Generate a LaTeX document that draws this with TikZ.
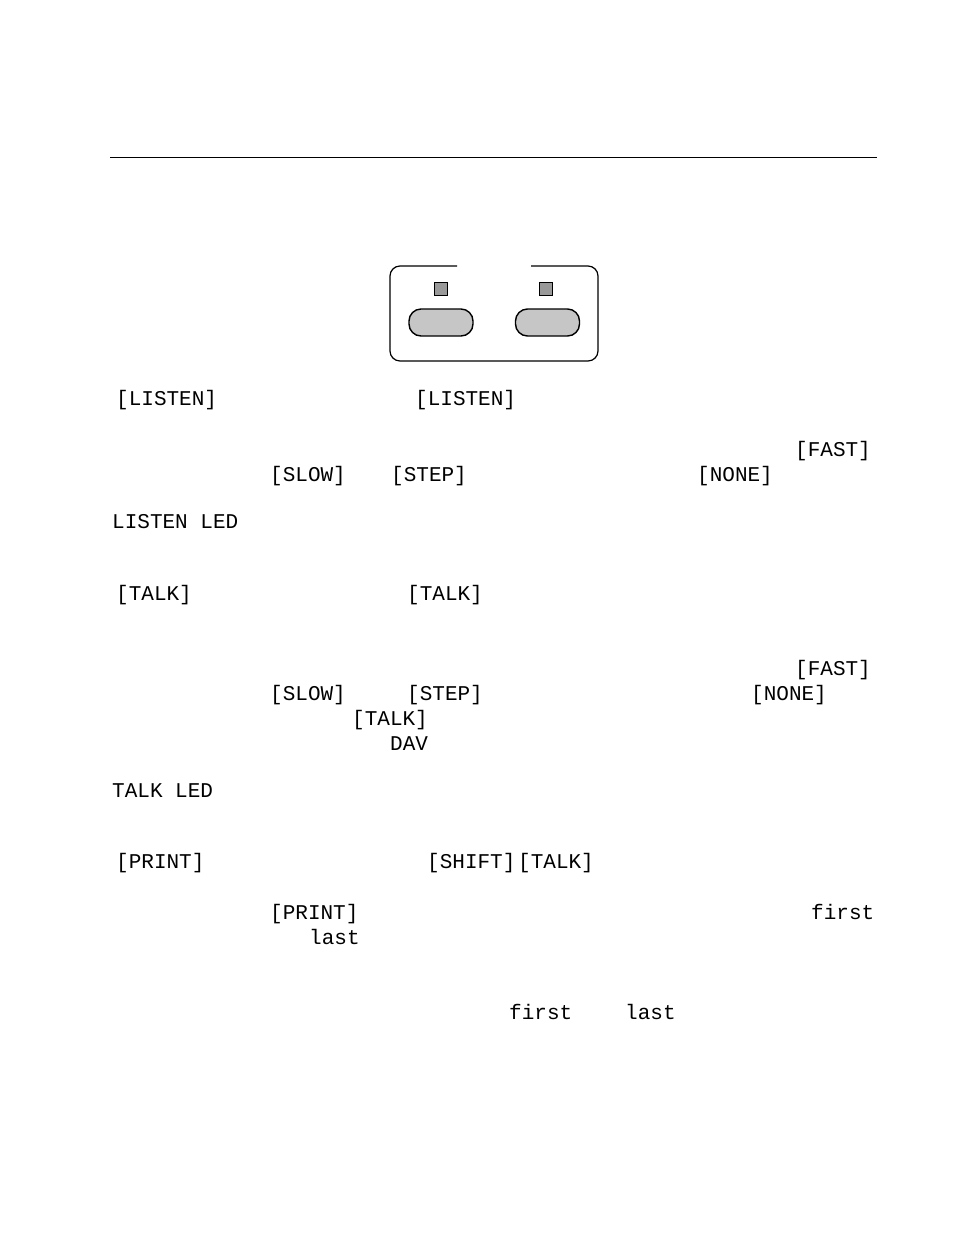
\documentclass[tikz,border=0pt]{standalone}
\usepackage{fontspec}
\setmonofont{Liberation Mono}
\tikzset{txt/.style={anchor=base west,inner sep=0pt,font=\ttfamily\fontsize{21}{21}\selectfont},
  led/.style={draw,line width=1.4pt,fill=gray!80,minimum size=13pt,inner sep=0pt},
  knob/.style={draw,line width=1.4pt,fill=gray!45,rounded corners=12pt,minimum width=64pt,minimum height=27pt,inner sep=0pt}}
\begin{document}
\begin{tikzpicture}[x=1pt,y=-1pt]
  \useasboundingbox (0,0) rectangle (954,1235);
  \draw (110,157) -- (877,157);
  % panel
  \draw[line width=1.2pt,rounded corners=10pt] (457,266) -- (390,266) -- (390,361) -- (598,361) -- (598,266) -- (531,266);
  \node[led] (ledl) at (441,289) {};
  \node[led] (ledt) at (546,289) {};
  \node[knob] (btnl) at (441,322.5) {};
  \node[knob] (btnt) at (547.5,322.5) {};
  % text
  \foreach \x/\y/\t in {116/405/[LISTEN],415/405/[LISTEN],795/456/[FAST],270/481/[SLOW],391/481/[STEP],697/481/[NONE],
    112/528/LISTEN LED,116/600/[TALK],407/600/[TALK],795/675/[FAST],270/700/[SLOW],407/700/[STEP],751/700/[NONE],
    352/725/[TALK],390/750/DAV,112/797/TALK LED,116/868/[PRINT],427/868/[SHIFT],518/868/[TALK],
    270/919/[PRINT],811/919/first,309/944/last,509/1019/first,625/1019/last}
    \node[txt] at (\x,\y) {\t};
\end{tikzpicture}
\end{document}
